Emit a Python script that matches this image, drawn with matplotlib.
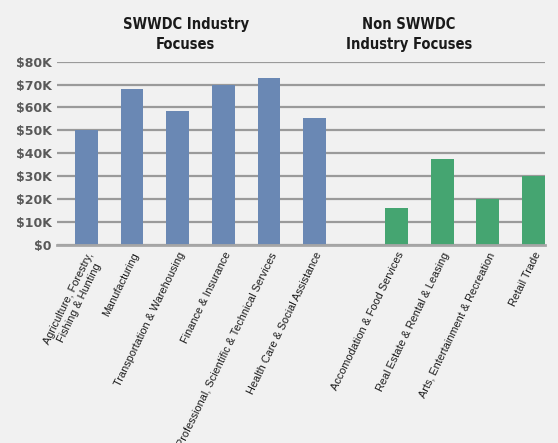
import numpy as np
import matplotlib.pyplot as plt
from matplotlib.ticker import FuncFormatter

# SWWDC industry focuses (left group) and the rest (right group)
swwdc_labels = ['Agriculture, Forestry,\nFishing & Hunting', 'Manufacturing',
                'Transportation & Warehousing', 'Finance & Insurance',
                'Professional, Scientific & Technical Services',
                'Health Care & Social Assistance']
swwdc_wages = [50000, 68000, 58500, 70000, 73000, 55500]

other_labels = ['Accomodation & Food Services', 'Real Estate & Rental & Leasing',
                'Arts, Entertainment & Recreation', 'Retail Trade']
other_wages = [16000, 37500, 20000, 30000]

y_ticks = np.arange(0, 80001, 10000)

bg = '#f1f1f1'
blue = '#6a88b4'
green = '#45a571'

fig = plt.figure(figsize=(5.58, 4.43), dpi=100, facecolor=bg)
ax = fig.add_axes([0.1027, 0.447, 0.874, 0.4138])
ax.set_facecolor(bg)

x_left = np.arange(len(swwdc_wages))
x_right = np.arange(len(other_wages)) + 6.79

ax.bar(x_left, swwdc_wages, width=0.5, color=blue, zorder=3)
ax.bar(x_right, other_wages, width=0.5, color=green, zorder=3)

ax.set_ylim(0, 80000)
ax.set_xlim(-0.635, 10.04)
ax.set_yticks(y_ticks)
ax.yaxis.set_major_formatter(FuncFormatter(
    lambda v, p: '$0' if v == 0 else '${:.0f}K'.format(v / 1000)))
ax.grid(axis='y', color='#9a9a9a', linewidth=1.6, zorder=0)
for s in ['top', 'right', 'left']:
    ax.spines[s].set_visible(False)
ax.spines['bottom'].set_color('#a6a6a6')
ax.spines['bottom'].set_linewidth(2)
ax.spines['bottom'].set_zorder(4)

ax.tick_params(axis='y', length=0, pad=4, labelsize=9, labelcolor='#595959')
for t in ax.get_yticklabels():
    t.set_fontweight('bold')

ax.set_xticks(np.concatenate([x_left, x_right]))
ax.set_xticklabels(swwdc_labels + other_labels, rotation=64, ha='right',
                   va='top', rotation_mode='anchor', fontsize=7.8,
                   family='Liberation Sans', color='#1a1a1a',
                   multialignment='center')
ax.tick_params(axis='x', length=0, pad=4)

title_kw = dict(ha='center', va='center', fontsize=10.5, fontweight='bold',
                fontstretch='condensed', color='#1a1a1a', linespacing=1.4)
fig.text(0.333, 0.922, 'SWWDC Industry\nFocuses', **title_kw)
fig.text(0.733, 0.922, 'Non SWWDC\nIndustry Focuses', **title_kw)

fig.savefig('out.png', dpi=100, facecolor=bg)
